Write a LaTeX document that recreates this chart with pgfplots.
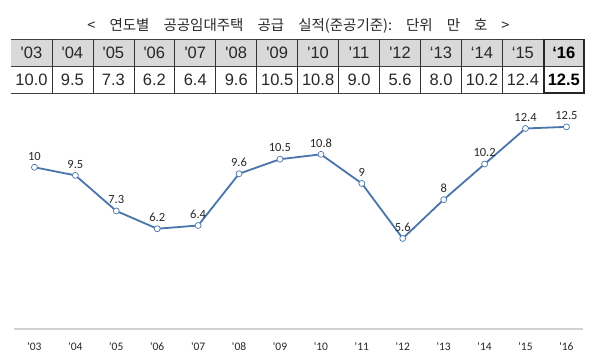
\documentclass[border=0pt]{standalone}
\usepackage{pgfplots}
\pgfplotsset{compat=1.18}
\usepackage{fontspec}
\setmainfont{Liberation Sans}
\newfontfamily\krfont{Noto Sans CJK KR}
\newfontfamily\calfont{Carlito}
\definecolor{linecol}{RGB}{72,118,172}
\definecolor{hdrgray}{RGB}{217,217,217}
\definecolor{txt}{RGB}{40,40,40}
\newcommand{\qq}{\textquotesingle}
\newcommand{\tsp}{\hspace{14pt}}
\begin{document}
\begin{tikzpicture}[x=1pt,y=1pt]
\fill[white] (0pt,0pt) rectangle (600pt,-361pt);
% title
\node[font=\krfont\fontsize{14.5}{16}\selectfont, text=txt] at (298.5pt,-26pt) {<\tsp 연도별\tsp 공공임대주택\tsp 공급\tsp 실적(준공기준):\tsp 단위\tsp 만\tsp 호\tsp >};
% table
\fill[hdrgray] (11pt,-39.5pt) rectangle (584.3pt,-66pt);
\draw[black!75, line width=0.8pt] (11pt,-39.5pt) -- (584.3pt,-39.5pt);
\draw[black!75, line width=0.6pt] (11pt,-66pt) -- (584.3pt,-66pt);
\draw[black!75, line width=0.8pt] (11pt,-93pt) -- (584.3pt,-93pt);
\foreach \i in {1,...,13} {
  \draw[black!80, line width=0.7pt] ({(11+40.95*\i)*1pt},-39.5pt) -- ({(11+40.95*\i)*1pt},-93pt);
}
\draw[black!85, line width=1.8pt] (544.3pt,-39.5pt) rectangle (584.3pt,-93pt);
\foreach \h [count=\i from 0] in {\qq03,\qq04,\qq05,\qq06,\qq07,\qq08,\qq09,\qq10,\qq11,\qq12,‘13,‘14,‘15} {
  \node[font=\fontsize{16.5}{18}\selectfont, text=txt] at ({(11+40.95*\i+20.475)*1pt},-52.75pt) {\h};
}
\node[font=\bfseries\fontsize{16.5}{18}\selectfont, text=black] at ({(11+40.95*13+20.475)*1pt},-52.75pt) {‘16};
\foreach \v [count=\i from 0] in {10.0,9.5,7.3,6.2,6.4,9.6,10.5,10.8,9.0,5.6,8.0,10.2,12.4} {
  \node[font=\fontsize{16.5}{18}\selectfont, text=txt] at ({(11+40.95*\i+20.475)*1pt},-79.5pt) {\v};
}
\node[font=\bfseries\fontsize{16.5}{18}\selectfont, text=black] at ({(11+40.95*13+20.475)*1pt},-79.5pt) {12.5};
% chart
\begin{axis}[
  at={(14pt,-329pt)}, anchor=south west,
  scale only axis, width=568.8pt, height=226.4pt,
  xmin=-0.5, xmax=13.4, ymin=0, ymax=14,
  axis x line*=bottom, axis y line=none,
  x axis line style={draw=black!18, line width=1.5pt, -},
  xtick={0,...,13},
  xticklabels={\qq03,\qq04,\qq05,\qq06,\qq07,\qq08,\qq09,\qq10,\qq11,\qq12,\qq13,\qq14,\qq15,\qq16},
  major tick length=0pt,
  xticklabel style={font=\calfont\fontsize{11.5}{12}\selectfont, text=txt, yshift=-10pt},
  clip=false,
  nodes near coords, point meta=explicit symbolic,
  every node near coord/.append style={font=\calfont\fontsize{12.5}{13}\selectfont, text=txt, yshift=3.5pt},
]
\addplot[linecol, line width=1.8pt, mark=*, mark size=3pt,
  mark options={fill=white, draw=linecol, line width=0.7pt}]
  table[meta=label] {
x y label
0 10.0 10
1 9.5 9.5
2 7.3 7.3
3 6.2 6.2
4 6.4 6.4
5 9.6 9.6
6 10.5 10.5
7 10.8 10.8
8 9.0 9
9 5.6 5.6
10 8.0 8
11 10.2 10.2
12 12.4 12.4
13 12.5 12.5
};
\end{axis}
\end{tikzpicture}
\end{document}
